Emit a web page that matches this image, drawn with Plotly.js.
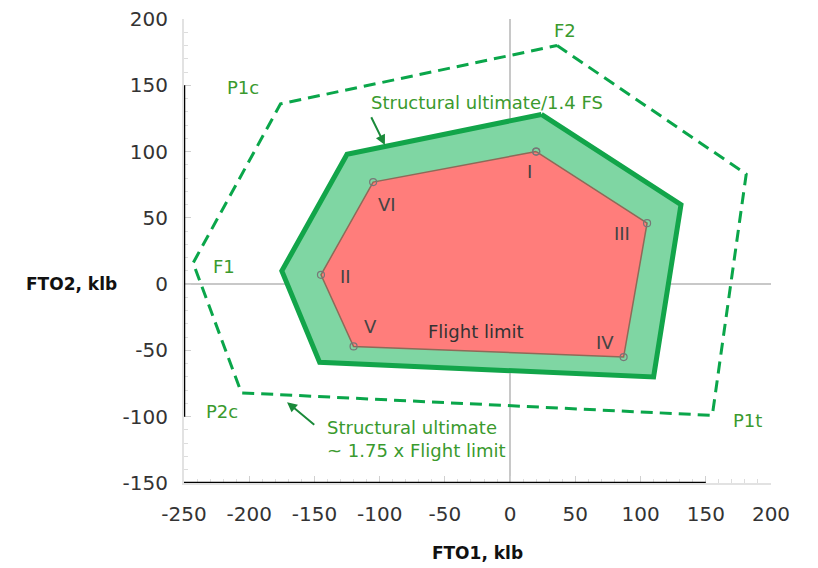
<!DOCTYPE html>
<html>
<head>
<meta charset="utf-8">
<script src="https://cdn.plot.ly/plotly-3.0.1.min.js"></script>
<style>html,body{margin:0;padding:0;background:#fff;}#chart{width:818px;height:568px;}</style>
</head>
<body>
<div id="chart"></div>
<script>
// Flight limit envelope (red)
const flightX = [20, 105, 87, -120, -145, -105, 20];
const flightY = [100, 46, -55, -47, 7, 77, 100];
const flightLabels = ['I', 'III', 'IV', 'V', 'II', 'VI'];
const flightLabelX = [15, 86, 73, -107, -126, -94];
const flightLabelY = [85, 38, -44, -32, 6, 60];

// Structural ultimate / 1.4 FS envelope (green)
const fsX = [24, 131, 110, -146, -175, -125, 24];
const fsY = [128, 60, -70, -59, 10, 98, 128];

// Structural ultimate envelope (dashed)
const ultX = [36, 181, 155, -206, -243, -176, 36];
const ultY = [180, 83, -99, -82, 16, 136, 180];
const ultLabels = ['F2', 'P2t', 'P1t', 'P2c', 'F1', 'P1c'];
const ultLabelX = [42, 209, 182, -221, -219, -205];
const ultLabelY = [191, 85, -103, -96, 13, 148];

const xTicks = [-250, -200, -150, -100, -50, 0, 50, 100, 150, 200];
const yTicks = [-150, -100, -50, 0, 50, 100, 150, 200];

const green = '#0aa64a';
const labelGreen = '#3a9a2e';
const font = 'DejaVu Sans, Verdana, sans-serif';

const traces = [
  {x: fsX, y: fsY, type: 'scatter', mode: 'lines', fill: 'toself',
   fillcolor: '#7fd6a3', line: {color: '#12a54a', width: 5}, hoverinfo: 'skip', showlegend: false},
  {x: flightX, y: flightY, type: 'scatter', mode: 'lines+markers', fill: 'toself',
   fillcolor: '#ff7d7b', line: {color: '#8e6a58', width: 1.5},
   marker: {symbol: 'circle-open', size: 7, color: '#777', line: {width: 1.2}},
   hoverinfo: 'skip', showlegend: false},
  {x: ultX, y: ultY, type: 'scatter', mode: 'lines',
   line: {color: green, width: 3, dash: '12px,7px'}, hoverinfo: 'skip', showlegend: false}
];

const annotations = [];
ultLabels.forEach((t, i) => annotations.push({x: ultLabelX[i], y: ultLabelY[i], xref: 'x', yref: 'y', text: t,
  showarrow: false, font: {family: font, size: 18, color: labelGreen}}));
flightLabels.forEach((t, i) => annotations.push({x: flightLabelX[i], y: flightLabelY[i], xref: 'x', yref: 'y', text: t,
  showarrow: false, font: {family: font, size: 18, color: '#444'}}));
annotations.push({x: -26, y: -36, xref: 'x', yref: 'y', text: 'Flight limit', showarrow: false,
  font: {family: font, size: 18, color: '#333'}});
annotations.push({x: -18, y: 137, xref: 'x', yref: 'y', text: 'Structural ultimate/1.4 FS', showarrow: false,
  font: {family: font, size: 18, color: labelGreen}});
annotations.push({x: -96, y: 105, xref: 'x', yref: 'y', ax: -107, ay: 127, axref: 'x', ayref: 'y',
  text: '', showarrow: true, arrowhead: 2, arrowsize: 1, arrowwidth: 2, arrowcolor: '#1a8a3a'});
annotations.push({x: -142, y: -117, xref: 'x', yref: 'y', xanchor: 'left', align: 'left',
  text: 'Structural ultimate<br>~ 1.75 x Flight limit', showarrow: false,
  font: {family: font, size: 18, color: labelGreen}});
annotations.push({x: -171, y: -89, xref: 'x', yref: 'y', ax: -149, ay: -107, axref: 'x', ayref: 'y',
  text: '', showarrow: true, arrowhead: 2, arrowsize: 1, arrowwidth: 2, arrowcolor: '#1a8a3a'});
annotations.push({x: -0.191, y: 0, xref: 'paper', yref: 'y', xanchor: 'center', text: 'FTO2, klb', showarrow: false,
  font: {family: font, size: 17, color: '#111', weight: 'bold'}});

const layout = {
  width: 818, height: 568,
  margin: {l: 184, r: 47, t: 19, b: 85},
  paper_bgcolor: '#fff', plot_bgcolor: '#fff',
  showlegend: false,
  xaxis: {
    range: [-250, 200], tickvals: xTicks, ticktext: xTicks.map(String),
    showgrid: false, zeroline: true, zerolinecolor: '#c8c8c8', zerolinewidth: 2,
    showline: true, linecolor: '#e2e2e2', linewidth: 2,
    ticks: 'inside', ticklen: 7, tickcolor: '#d0d0d0', tickwidth: 1,
    minor: {dtick: 10, tick0: 0, ticks: 'inside', ticklen: 4, tickcolor: '#dddddd', showgrid: false},
    tickfont: {family: font, size: 20, color: '#333'}, ticklabelstandoff: 12,
    title: {text: 'FTO1, klb', font: {family: font, size: 17, color: '#111', weight: 'bold'}, standoff: 22},
    fixedrange: true
  },
  yaxis: {
    range: [-150, 200], tickvals: yTicks, ticktext: yTicks.map(String),
    showgrid: false, zeroline: true, zerolinecolor: '#c8c8c8', zerolinewidth: 2,
    showline: true, linecolor: '#e2e2e2', linewidth: 2,
    ticks: 'inside', ticklen: 7, tickcolor: '#d0d0d0', tickwidth: 1,
    minor: {dtick: 10, tick0: 0, ticks: 'inside', ticklen: 4, tickcolor: '#dddddd', showgrid: false},
    tickfont: {family: font, size: 20, color: '#333'}, ticklabelstandoff: 10,
    fixedrange: true
  },
  shapes: [
    {type: 'line', xref: 'x', yref: 'y', x0: -250, x1: -250, y0: -100, y1: 150, line: {color: '#000', width: 2.5}},
    {type: 'line', xref: 'x', yref: 'y', x0: -250, x1: 150, y0: -150, y1: -150, line: {color: '#000', width: 2.5}}
  ],
  annotations: annotations
};

Plotly.newPlot('chart', traces, layout, {displayModeBar: false, staticPlot: true});
</script>
</body>
</html>
